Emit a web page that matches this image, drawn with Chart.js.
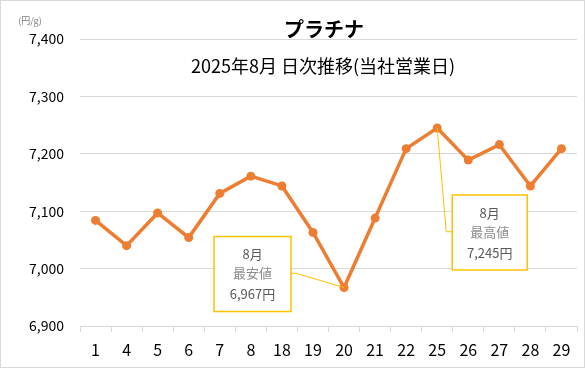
<!DOCTYPE html>
<html>
<head>
<meta charset="utf-8">
<script src="https://cdn.jsdelivr.net/npm/chart.js@4"></script>
<style>
  body { margin: 0; background: #fff; }
  canvas { display: block; }
</style>
</head>
<body>
<canvas id="ptChart" width="585" height="368"></canvas>
<script>
// data
const days = ['1', '4', '5', '6', '7', '8', '18', '19', '20', '21', '22', '25', '26', '27', '28', '29'];
const prices = [7084, 7040, 7097, 7054, 7131, 7161, 7144, 7063, 6967, 7088, 7209, 7245, 7189, 7216, 7144, 7209];
const yTicks = [6900, 7000, 7100, 7200, 7300, 7400];

const titleText = 'プラチナ';
const subTitleText = '2025年8月 日次推移(当社営業日)';
const unitText = '(円/g)';
const monthText = '8月';

const FONT = '"Noto Sans CJK JP", "Noto Sans", sans-serif';

// titles, unit, border and the min / max call-outs
const overlay = {
  id: 'overlay',
  beforeDraw(chart) {
    const c = chart.ctx;
    c.save();
    c.fillStyle = '#fff';
    c.fillRect(0, 0, chart.width, chart.height);
    c.restore();
  },
  afterDraw(chart) {
    const c = chart.ctx;
    const xs = chart.scales.x, ys = chart.scales.y;
    c.save();

    // outer frame
    c.strokeStyle = '#d9d9d9';
    c.lineWidth = 1;
    c.strokeRect(0.5, 0.5, chart.width - 1, chart.height - 1);

    c.textAlign = 'center';
    c.textBaseline = 'middle';
    c.fillStyle = '#000';
    c.font = 'bold 20px ' + FONT;
    c.fillText(titleText, 324, 29);
    c.font = '18px ' + FONT;
    c.fillText(subTitleText, 323, 66);

    c.fillStyle = '#7f7f7f';
    c.font = '9px ' + FONT;
    c.fillText(unitText, 30, 21);

    const callout = (idx, label, bx, by, bw, bh, side) => {
      const px = xs.getPixelForValue(idx);
      const py = ys.getPixelForValue(prices[idx]);
      const left = px + bx, top = py + by;
      c.strokeStyle = '#ffc000';
      c.lineWidth = 1;
      c.beginPath();
      if (side === 'right') {
        const ly = top + bh * 0.49;
        c.moveTo(left + bw, ly);
        c.lineTo(left + bw + 5, ly);
        c.lineTo(px, py);
      } else {
        const ly = top + bh * 0.49;
        c.moveTo(px, py);
        c.lineTo(left - 6, ly);
        c.lineTo(left, ly);
      }
      c.stroke();
      c.lineWidth = 1.5;
      c.fillStyle = '#fff';
      c.fillRect(left, top, bw, bh);
      c.strokeRect(left, top, bw, bh);

      const cx = left + bw / 2;
      c.font = '13px ' + FONT;
      c.fillStyle = '#595959';
      c.fillText(monthText, cx, top + 18);
      c.fillStyle = '#8c8c8c';
      c.fillText(label, cx, top + 37);
      c.fillStyle = '#595959';
      c.fillText(prices[idx].toLocaleString('en-US') + '円', cx, top + 58);
    };

    const lowIdx = prices.indexOf(Math.min(...prices));
    const highIdx = prices.indexOf(Math.max(...prices));
    callout(lowIdx, '最安値', -130, -51, 77, 75, 'right');
    callout(highIdx, '最高値', 15, 67, 75, 75, 'left');

    c.restore();
  }
};

const ctx = document.getElementById('ptChart').getContext('2d');
new Chart(ctx, {
  type: 'line',
  data: {
    labels: days,
    datasets: [{
      data: prices,
      borderColor: '#ed7d31',
      backgroundColor: '#ed7d31',
      borderWidth: 3.5,
      pointRadius: 4.5,
      pointBackgroundColor: '#ed7d31',
      pointBorderWidth: 0,
      tension: 0
    }]
  },
  options: {
    responsive: false,
    animation: false,
    devicePixelRatio: 1,
    layout: { padding: { top: 39, right: 8, left: 0, bottom: 0 } },
    plugins: {
      legend: { display: false },
      title: { display: false },
      tooltip: { enabled: false }
    },
    scales: {
      x: {
        offset: true,
        afterFit: s => { s.height = 42; },
        grid: {
          offset: true,
          drawOnChartArea: false,
          drawTicks: true,
          tickLength: 6,
          color: '#d9d9d9'
        },
        border: { color: '#d9d9d9', width: 1 },
        ticks: {
          color: '#000',
          padding: 8,
          maxRotation: 0,
          autoSkip: false,
          font: { family: FONT, size: 16 }
        }
      },
      y: {
        min: yTicks[0],
        max: yTicks[yTicks.length - 1],
        afterFit: s => { s.width = 80; },
        afterBuildTicks: s => { s.ticks = yTicks.map(v => ({ value: v })); },
        grid: { color: '#d9d9d9', drawTicks: false },
        border: { display: false },
        ticks: {
          color: '#000',
          padding: 16,
          font: { family: FONT, size: 14 },
          callback: v => v.toLocaleString('en-US')
        }
      }
    }
  },
  plugins: [overlay]
});
</script>
</body>
</html>
